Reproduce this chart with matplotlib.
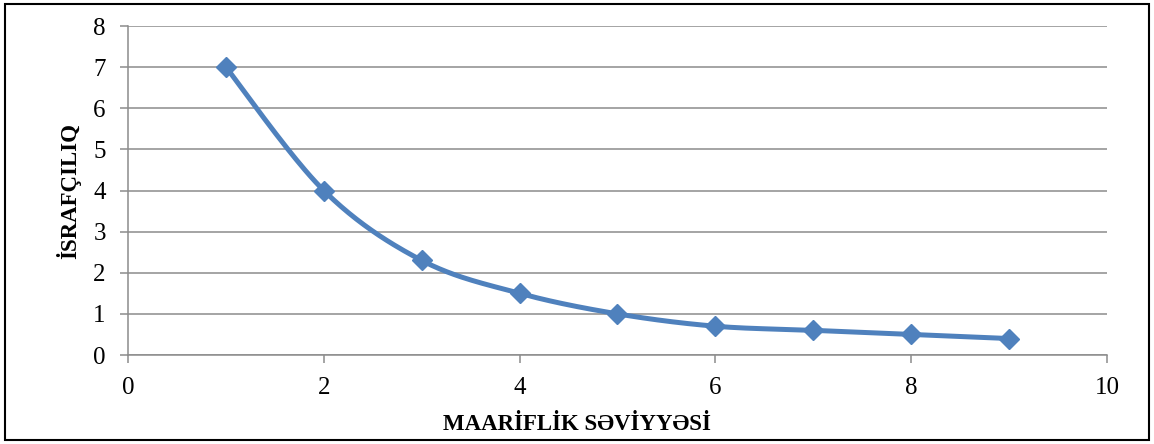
import numpy as np
import matplotlib
matplotlib.use("Agg")
import matplotlib.pyplot as plt
from matplotlib.patches import Rectangle

x_vals = [1, 2, 3, 4, 5, 6, 7, 8, 9]
y_vals = [7, 4, 2.3, 1.5, 1.0, 0.7, 0.6, 0.5, 0.4]
x_ticks = [0, 2, 4, 6, 8, 10]
y_ticks = [0, 1, 2, 3, 4, 5, 6, 7, 8]
x_title = "MAARİFLİK SƏVİYYƏSİ"
y_title = "İSRAFÇILIQ"

plt.rcParams['font.family'] = ['Liberation Serif', 'DejaVu Serif']

def smooth(xs, ys, n=40):
    P = np.column_stack([xs, ys]).astype(float)
    out = []
    for i in range(len(P) - 1):
        p0 = P[i - 1] if i > 0 else P[i]
        p1 = P[i]
        p2 = P[i + 1]
        p3 = P[i + 2] if i + 2 < len(P) else P[i + 1]
        c1 = p1 + (p2 - p0) / 6.0
        c2 = p2 - (p3 - p1) / 6.0
        t = np.linspace(0, 1, n)[:, None]
        seg = ((1 - t) ** 3) * p1 + 3 * ((1 - t) ** 2) * t * c1 + 3 * (1 - t) * t ** 2 * c2 + t ** 3 * p2
        out.append(seg if i == 0 else seg[1:])
    S = np.vstack(out)
    return S[:, 0], S[:, 1]

fig = plt.figure(figsize=(11.54, 4.44), dpi=100)
ax = fig.add_axes([128 / 1154, 1 - 355 / 444, (1107 - 128) / 1154, (355 - 26) / 444])

grid_c = '#8c8c8c'
sx, sy = smooth(x_vals, y_vals)
ax.plot(sx, sy, color='#4F81BD', lw=3.6, solid_capstyle='round', zorder=3)
ax.plot(x_vals, y_vals, linestyle='none', marker='D', ms=10, color='#4F81BD', zorder=4)

ax.set_xlim(0, 10)
ax.set_ylim(0, 8)
ax.set_xticks(x_ticks)
ax.set_yticks(y_ticks)
ax.yaxis.grid(True, color=grid_c, lw=1.1)
ax.set_axisbelow(True)
for s in ['top', 'right']:
    ax.spines[s].set_visible(False)
for s in ['left', 'bottom']:
    ax.spines[s].set_color(grid_c)
    ax.spines[s].set_linewidth(1.1)
ax.tick_params(axis='both', colors=grid_c, width=1.1, length=6, labelsize=18, labelcolor='black')
ax.tick_params(axis='y', pad=10)
ax.tick_params(axis='x', pad=10)

ax.set_xlabel(x_title, fontsize=16.5, fontweight='bold')
ax.set_ylabel(y_title, fontsize=16.5, fontweight='bold')
ax.xaxis.set_label_coords((577 - 128) / 979, -0.18)
ax.yaxis.set_label_coords(-0.048, 0.5)

fig.patches.append(Rectangle((5 / 1154, 4 / 444), 1144 / 1154, 436 / 444, transform=fig.transFigure,
                             fill=False, edgecolor='black', lw=1.5))

fig.savefig('out.png', dpi=100)
